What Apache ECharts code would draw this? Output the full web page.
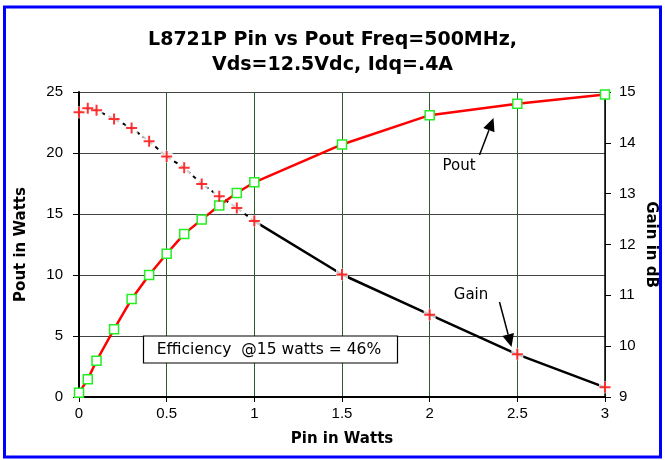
<!DOCTYPE html>
<html>
<head>
<meta charset="UTF-8">
<title>L8721P Pin vs Pout</title>
<script src="https://cdn.jsdelivr.net/npm/echarts@6/dist/echarts.min.js"></script>
<style>
  html, body { margin: 0; padding: 0; background: #fff; }
</style>
</head>
<body>
<div id="main" style="width: 665px;height:460px;"></div>
<script type="text/javascript">
        // data
        var pin = [0, 0.05, 0.1, 0.2, 0.3, 0.4, 0.5, 0.6, 0.7, 0.8, 0.9, 1.0, 1.5, 2.0, 2.5, 3.0];
        var pout = [0.35, 1.45, 2.97, 5.56, 8.03, 10.0, 11.74, 13.37, 14.54, 15.69, 16.72, 17.6, 20.7, 23.1, 24.04, 24.8];
        var gain = [14.60, 14.68, 14.64, 14.47, 14.29, 14.03, 13.73, 13.51, 13.19, 12.95, 12.72, 12.46, 11.41, 10.62, 9.84, 9.19];
        var poutTicks = [0, 5, 10, 15, 20, 25];
        var gainTicks = [9, 10, 11, 12, 13, 14, 15];

        var font = 'Liberation Sans, Arial, sans-serif';
        var wide = 'DejaVu Sans, sans-serif';

        function pairs(xs, ys, from, to) {
            var out = [];
            for (var i = from; i <= to; i++) out.push([xs[i], ys[i]]);
            return out;
        }
        var split = pin.indexOf(1.0);

        // arrow made of a line and a filled head
        function arrow(x1, y1, x2, y2) {
            var dx = x2 - x1, dy = y2 - y1, len = Math.sqrt(dx * dx + dy * dy);
            var ux = dx / len, uy = dy / len;
            var bx = x2 - 13 * ux, by = y2 - 13 * uy;
            var px = -uy * 6, py = ux * 6;
            return [
                { type: 'line', shape: { x1: x1, y1: y1, x2: bx, y2: by }, style: { stroke: '#000', lineWidth: 1.5 }, z: 100 },
                { type: 'polygon', shape: { points: [[x2, y2], [bx + px, by + py], [bx - px, by - py]] }, style: { fill: '#000' }, z: 100 }
            ];
        }

        var plusSymbol = 'path://M0,5L10,5M5,0L5,10';

        var myChart = echarts.init(document.getElementById('main'));

        var graphics = [
            { type: 'rect', shape: { x: 4.5, y: 7, width: 656, height: 450 }, style: { fill: 'none', stroke: '#0000ff', lineWidth: 3 }, silent: true },
            { type: 'rect', shape: { x: 143.5, y: 336, width: 254, height: 27 }, style: { fill: '#fff', stroke: '#000', lineWidth: 1.2 }, z: 100 },
            { type: 'text', x: 269, y: 350, style: { text: 'Efficiency  @15 watts = 46%', font: '15.5px ' + wide, fill: '#000', align: 'center', verticalAlign: 'middle' }, z: 101 },
            { type: 'text', x: 459, y: 166, style: { text: 'Pout', font: '15px ' + wide, fill: '#000', align: 'center', verticalAlign: 'middle' }, z: 101 },
            { type: 'text', x: 471, y: 295, style: { text: 'Gain', font: '15px ' + wide, fill: '#000', align: 'center', verticalAlign: 'middle' }, z: 101 }
        ].concat(arrow(479.5, 155, 493.5, 118)).concat(arrow(499.5, 302, 511.5, 347));

        myChart.setOption({
            animation: false,
            backgroundColor: '#fff',
            title: {
                text: 'L8721P Pin vs Pout Freq=500MHz,\nVds=12.5Vdc, Idq=.4A',
                left: 'center',
                top: 23,
                textStyle: { fontFamily: wide, fontSize: 19, fontWeight: 'bold', lineHeight: 25, color: '#000' }
            },
            grid: { left: 79, right: 60, top: 92, bottom: 63, outerBoundsMode: 'none' },
            xAxis: {
                type: 'value', min: 0, max: 3, interval: 0.5,
                name: 'Pin in Watts', nameLocation: 'middle', nameGap: 35,
                nameTextStyle: { fontFamily: wide, fontSize: 15, fontWeight: 'bold', color: '#000' },
                axisLine: { lineStyle: { color: '#000', width: 2 } },
                axisTick: { show: true, length: 5, lineStyle: { color: '#000' } },
                axisLabel: { fontFamily: font, fontSize: 15, color: '#000', margin: 9 },
                splitLine: { show: true, lineStyle: { color: '#2f5a2f', width: 1 } }
            },
            yAxis: [{
                type: 'value', min: poutTicks[0], max: poutTicks[poutTicks.length - 1], interval: 5,
                name: 'Pout in Watts', nameLocation: 'middle', nameGap: 50, nameRotate: 90,
                nameTextStyle: { fontFamily: wide, fontSize: 15, fontWeight: 'bold', color: '#000' },
                axisLine: { show: true, lineStyle: { color: '#000', width: 2 } },
                axisTick: { show: true, length: 6, lineStyle: { color: '#000' } },
                axisLabel: { fontFamily: font, fontSize: 15, color: '#000', margin: 16 },
                splitLine: { show: true, lineStyle: { color: '#444', width: 1.2 } }
            }, {
                type: 'value', min: gainTicks[0], max: gainTicks[gainTicks.length - 1], interval: 1,
                name: 'Gain in dB', nameLocation: 'middle', nameGap: 38, nameRotate: -90,
                nameMoveOverlap: false,
                nameTextStyle: { fontFamily: wide, fontSize: 15, fontWeight: 'bold', color: '#000' },
                axisLine: { show: true, lineStyle: { color: '#000', width: 1.5 } },
                axisTick: { show: true, length: 6, lineStyle: { color: '#000' } },
                axisLabel: { fontFamily: font, fontSize: 15, color: '#000', margin: 14 },
                splitLine: { show: false }
            }],
            series: [{
                name: 'Gain (low)', type: 'line', yAxisIndex: 1,
                data: pairs(pin, gain, 0, split),
                symbol: 'none',
                lineStyle: { color: '#000', width: 2, type: [4, 4] },
                z: 2
            }, {
                name: 'Gain', type: 'line', yAxisIndex: 1,
                data: pairs(pin, gain, split, pin.length - 1),
                symbol: 'none',
                lineStyle: { color: '#000', width: 2.5 },
                z: 2
            }, {
                name: 'Gain halo', type: 'scatter', yAxisIndex: 1,
                data: pairs(pin, gain, 0, pin.length - 1),
                symbol: 'rect', symbolSize: 12,
                itemStyle: { color: '#fff' },
                silent: true,
                z: 3
            }, {
                name: 'Pout', type: 'line', yAxisIndex: 0,
                data: pairs(pin, pout, 0, pin.length - 1),
                symbol: 'rect', symbolSize: 9,
                lineStyle: { color: '#ff0000', width: 2.5 },
                itemStyle: { color: '#ffffff', borderColor: '#22ee22', borderWidth: 1.5 },
                z: 4
            }, {
                name: 'Gain marks', type: 'scatter', yAxisIndex: 1,
                data: pairs(pin, gain, 0, pin.length - 1),
                symbol: plusSymbol, symbolSize: 11,
                itemStyle: { color: '#ff0000', borderColor: '#ff0000', borderWidth: 2 },
                z: 5
            }],
            graphic: graphics
        });
    </script>
</body>
</html>
